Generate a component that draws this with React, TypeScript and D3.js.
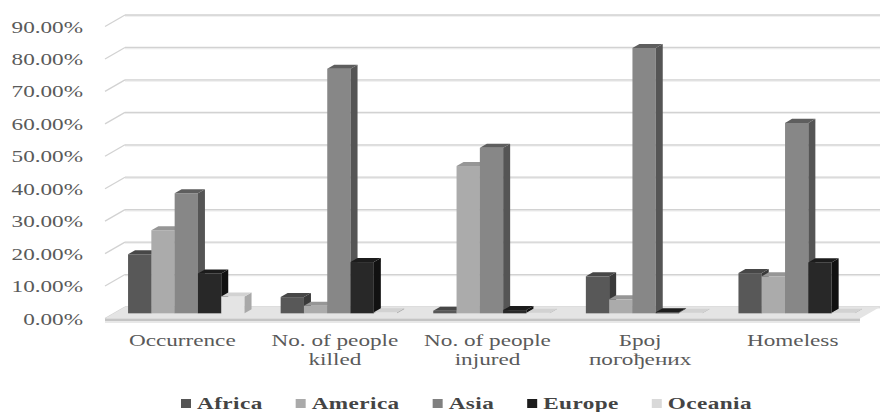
import React, { useEffect, useRef } from 'react';
import * as d3 from 'd3';

const categories = ['Occurrence', 'No. of people\nkilled', 'No. of people\ninjured', 'Броj\nпогођених', 'Homeless'];
const seriesNames = ['Africa', 'America', 'Asia', 'Europe', 'Oceania'];
const africa = [18.2, 5.0, 0.8, 11.4, 12.4];
const america = [25.6, 2.3, 45.4, 4.3, 11.4];
const asia = [37.0, 75.4, 51.0, 81.8, 58.7];
const europe = [12.3, 15.8, 1.0, 0.3, 15.7];
const oceania = [5.2, 0.3, 0.2, 0.2, 0.2];
const yTicks = [0, 10, 20, 30, 40, 50, 60, 70, 80, 90];

const seriesValues = [africa, america, asia, europe, oceania];
const faceColors = [
  { front: '#585858', side: '#3a3a3a', top: '#474747', legend: '#555555' },
  { front: '#ababab', side: '#8a8a8a', top: '#969696', legend: '#aaaaaa' },
  { front: '#878787', side: '#555555', top: '#5e5e5e', legend: '#808080' },
  { front: '#282828', side: '#111111', top: '#1c1c1c', legend: '#1c1c1c' },
  { front: '#e4e4e4', side: '#a8a8a8', top: '#d2d2d2', legend: '#d9d9d9' },
];

const W = 880, H = 412;
const SX = 1.45;
const FONT = "'Liberation Serif', 'DejaVu Serif', serif";

export default function App() {
  const ref = useRef<SVGSVGElement>(null);
  useEffect(() => {
    const svg = d3.select(ref.current);
    svg.selectAll('*').remove();

    const yBack = d3.scaleLinear().domain([0, 90]).range([307, 15]);
    const DX = -20, DY = 11.5;
    const zF = 0.55, zB = 0.2;
    const backL = 125, backR = 882;

    const x0 = d3.scaleBand<number>().domain(d3.range(categories.length)).range([121, 884]);
    const x1 = d3.scaleBand<number>().domain(d3.range(seriesNames.length)).range([0, x0.bandwidth()]).paddingOuter(0.775).paddingInner(0);

    const g = svg.append('g');

    yTicks.forEach((t) => {
      const y = yBack(t);
      g.append('line').attr('x1', backL).attr('x2', backR).attr('y1', y + 1).attr('y2', y + 1)
        .attr('stroke', '#ececec').attr('stroke-width', 1.5);
      g.append('line').attr('x1', backL).attr('x2', backR).attr('y1', y).attr('y2', y)
        .attr('stroke', '#d2d2d2').attr('stroke-width', 1.3);
      g.append('line').attr('x1', backL + DX).attr('y1', y + DY).attr('x2', backL).attr('y2', y)
        .attr('stroke', '#d2d2d2').attr('stroke-width', 1.3);
      g.append('text')
        .attr('transform', `translate(83,${y + 17.5}) scale(${SX},1)`)
        .attr('text-anchor', 'end')
        .style('font-family', FONT).style('font-size', '16px').attr('fill', '#5a5a5a')
        .text(`${t.toFixed(2)}%`);
    });

    const y0 = yBack(0);
    g.append('polygon')
      .attr('points', [[backL, y0], [backR - 2, y0], [backR - 2 + DX, y0 + DY], [backL + DX, y0 + DY]].map((p) => p.join(',')).join(' '))
      .attr('fill', '#e4e4e4');
    g.append('rect').attr('x', backL + DX).attr('y', y0 + DY).attr('width', backR - backL - 2).attr('height', 2.5)
      .attr('fill', '#c4c4c4');
    g.append('rect').attr('x', backL + DX).attr('y', y0 + DY + 2.5).attr('width', backR - backL - 2).attr('height', 2)
      .attr('fill', '#e8e8e8');

    const fdx = DX * zF, fdy = DY * zF;
    const bdx = DX * zB, bdy = DY * zB;
    const ddx = bdx - fdx, ddy = bdy - fdy;
    const pts = (a: number[][]) => a.map((p) => p.join(',')).join(' ');
    categories.forEach((_, ci) => {
      seriesNames.forEach((_, si) => {
        const v = seriesValues[si][ci];
        const w = x1.bandwidth();
        const bx = (x0(ci) as number) + (x1(si) as number) + fdx;
        const by = yBack(0) + fdy;
        const ty = yBack(v) + fdy;
        const c = faceColors[si];
        g.append('rect').attr('x', bx).attr('y', ty).attr('width', w).attr('height', Math.max(0, by - ty))
          .attr('fill', c.front);
        g.append('polygon').attr('points', pts([[bx + w, ty], [bx + w + ddx, ty + ddy], [bx + w + ddx, by + ddy], [bx + w, by]]))
          .attr('fill', c.side);
        g.append('polygon').attr('points', pts([[bx, ty], [bx + w, ty], [bx + w + ddx, ty + ddy], [bx + ddx, ty + ddy]]))
          .attr('fill', c.top);
      });
    });

    categories.forEach((cat, ci) => {
      const cx = (x0(ci) as number) + x0.bandwidth() / 2 - 15;
      cat.split('\n').forEach((line, li) => {
        g.append('text')
          .attr('transform', `translate(${cx},${346 + li * 19}) scale(${SX},1)`)
          .attr('text-anchor', 'middle')
          .style('font-family', FONT).style('font-size', '16px').attr('fill', '#5a5a5a')
          .text(line);
      });
    });

    let lx = 181;
    seriesNames.forEach((name, si) => {
      g.append('rect').attr('x', lx).attr('y', 399).attr('width', 10).attr('height', 9).attr('fill', faceColors[si].legend);
      const t = g.append('text')
        .attr('transform', `translate(${lx + 16},${409}) scale(${SX},1)`)
        .style('font-family', FONT).style('font-size', '16px').style('font-weight', 'bold').attr('fill', '#444444')
        .attr('letter-spacing', 0.3)
        .text(name);
      const len = (t.node() as SVGTextElement).getComputedTextLength() * SX;
      lx = lx + 16 + len + 33;
    });
  }, []);

  return (
    <svg ref={ref} width={W} height={H} style={{ position: 'absolute', left: 0, top: 0, background: '#fff' }} />
  );
}
